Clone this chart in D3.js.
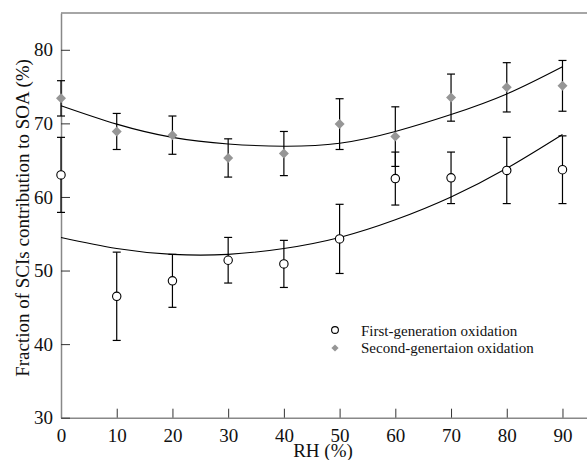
<!DOCTYPE html>
<html>
<head>
<meta charset="utf-8">
<script src="https://cdn.jsdelivr.net/npm/d3@7"></script>
<style>
	body { margin: 0; background: #fff; }
	svg text { font-family: "Liberation Serif", "Times New Roman", serif; fill: #111; }
</style>
</head>
<body>
<svg id="chart" width="587" height="460"></svg>
<script>
// RH steps (%)
const rh = [0, 10, 20, 30, 40, 50, 60, 70, 80, 90];

// First-generation oxidation
const firstGen = [63.0, 46.5, 48.6, 51.4, 50.9, 54.3, 62.5, 62.6, 63.6, 63.7];
const firstErr = [5.1, 6.0, 3.6, 3.1, 3.2, 4.7, 3.6, 3.5, 4.5, 4.6];
const firstFit = [54.5, 53.0, 52.2, 52.2, 53.0, 54.5, 56.9, 60.0, 63.9, 68.5];

// Second-generation oxidation
const secondGen = [73.4, 68.9, 68.4, 65.3, 65.9, 69.9, 68.2, 73.5, 74.9, 75.1];
const secondErr = [2.4, 2.45, 2.6, 2.6, 3.0, 3.45, 4.05, 3.2, 3.35, 3.45];
const secondFit = [72.4, 69.9, 68.1, 67.2, 66.9, 67.3, 68.9, 71.2, 74.0, 77.7];

const xTicks = [0, 10, 20, 30, 40, 50, 60, 70, 80, 90];
const yTicks = [30, 40, 50, 60, 70, 80];
const legendLabels = ['First-generation oxidation', 'Second-genertaion oxidation'];

const svg = d3.select('#chart');
const plotLeft = 61, plotRight = 587, plotTop = 13, plotBottom = 417.7;
const serif = '"Liberation Serif", "Times New Roman", serif';

const x = d3.scaleLinear().domain([0, 94.4]).range([plotLeft, plotRight]);
const y = d3.scaleLinear().domain([30, 85]).range([plotBottom, plotTop]);

// frame top line
svg.append('line')
	.attr('x1', plotLeft).attr('x2', plotRight).attr('y1', plotTop).attr('y2', plotTop)
	.attr('stroke', '#888').attr('stroke-width', 1.5);

const xAxis = svg.append('g').attr('transform', `translate(0,${plotBottom})`)
	.call(d3.axisBottom(x).tickValues(xTicks).tickSizeInner(-9).tickSizeOuter(0).tickPadding(11));
const yAxis = svg.append('g').attr('transform', `translate(${plotLeft},0)`)
	.call(d3.axisLeft(y).tickValues(yTicks).tickSizeInner(-9).tickSizeOuter(0).tickPadding(8));

[xAxis, yAxis].forEach(g => {
	g.attr('font-family', serif);
	g.select('.domain').attr('stroke', '#888').attr('stroke-width', 1.5);
	g.selectAll('.tick line').attr('stroke', '#333');
	g.selectAll('.tick text').attr('font-size', 19).attr('fill', '#111');
});

svg.append('text')
	.attr('x', 323).attr('y', 457)
	.attr('text-anchor', 'middle').attr('font-size', 19)
	.text('RH (%)');

svg.append('text')
	.attr('transform', 'translate(29,218) rotate(-90)')
	.attr('text-anchor', 'middle').attr('font-size', 19)
	.text('Fraction of SCIs contribution to SOA (%)');

// fitted curves
const line = d3.line().x((d, i) => x(rh[i])).y(d => y(d)).curve(d3.curveNatural);
[firstFit, secondFit].forEach(fit => {
	svg.append('path').datum(fit)
		.attr('d', line).attr('fill', 'none')
		.attr('stroke', '#000').attr('stroke-width', 1.1);
});

// error bars
function errorBars(vals, errs) {
	const g = svg.append('g').attr('stroke', '#000').attr('stroke-width', 1.2);
	const bars = g.selectAll('g').data(vals).enter().append('g');
	bars.append('line')
		.attr('x1', (d, i) => x(rh[i])).attr('x2', (d, i) => x(rh[i]))
		.attr('y1', (d, i) => y(d - errs[i])).attr('y2', (d, i) => y(d + errs[i]));
	[-1, 1].forEach(s => {
		bars.append('line')
			.attr('x1', (d, i) => x(rh[i]) - 4).attr('x2', (d, i) => x(rh[i]) + 4)
			.attr('y1', (d, i) => y(d + s * errs[i])).attr('y2', (d, i) => y(d + s * errs[i]));
	});
}
errorBars(firstGen, firstErr);
errorBars(secondGen, secondErr);

// markers
svg.append('g').selectAll('circle').data(firstGen).enter().append('circle')
	.attr('cx', (d, i) => x(rh[i])).attr('cy', d => y(d)).attr('r', 4.2)
	.attr('fill', '#fff').attr('stroke', '#000').attr('stroke-width', 1.1);

const diamond = d3.symbol(d3.symbolSquare, 50);
svg.append('g').selectAll('path').data(secondGen).enter().append('path')
	.attr('d', diamond)
	.attr('transform', (d, i) => `translate(${x(rh[i])},${y(d)}) rotate(45)`)
	.attr('fill', '#969696');

// legend
const lg = svg.append('g');
lg.append('circle').attr('cx', 335).attr('cy', 330).attr('r', 3.4)
	.attr('fill', '#fff').attr('stroke', '#000').attr('stroke-width', 1.1);
lg.append('path').attr('d', d3.symbol(d3.symbolSquare, 26))
	.attr('transform', 'translate(335,348) rotate(45)').attr('fill', '#969696');
lg.selectAll('text').data(legendLabels).enter().append('text')
	.attr('x', 361).attr('y', (d, i) => 335.5 + i * 17.5)
	.attr('font-size', 15)
	.text(d => d);
</script>
</body>
</html>
